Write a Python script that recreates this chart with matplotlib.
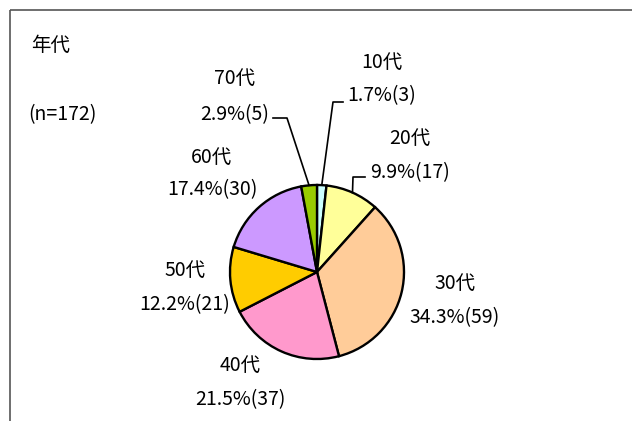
import matplotlib
matplotlib.use('Agg')
import matplotlib.pyplot as plt
import numpy as np

plt.rcParams['font.family'] = ['Noto Sans CJK JP', 'DejaVu Sans']

ages = ['10代', '20代', '30代', '40代', '50代', '60代', '70代']
counts = [3, 17, 59, 37, 21, 30, 5]
percents = [1.7, 9.9, 34.3, 21.5, 12.2, 17.4, 2.9]
colors = ['#CCFFFF', '#FFFF99', '#FFCC99', '#FF99CC', '#FFCC00', '#CC99FF', '#99CC00']
n_total = 172

W, H = 632, 421
fig = plt.figure(figsize=(W / 100, H / 100), dpi=100)
ax = fig.add_axes([0, 0, 1, 1])

# pie centre / radius in pixel units (y axis is flipped, so go counterclockwise)
cx, cy, r = 317, 272, 87
ax.pie(counts, colors=colors, startangle=-90, counterclock=True,
       center=(cx, cy), radius=r, frame=True,
       wedgeprops=dict(edgecolor='k', linewidth=1.7))
ax.set_xlim(0, W)
ax.set_ylim(H, 0)
ax.set_aspect('equal')
ax.axis('off')

# frame (only top and left visible)
ax.plot([10, 10], [H + 5, 10], color='#555555', lw=1.2, solid_capstyle='butt')
ax.plot([10, W + 5], [10, 10], color='#555555', lw=1.2, solid_capstyle='butt')

fs = 14
ax.text(31, 45, '年代', fontsize=fs, va='center', ha='left')
ax.text(28, 115, f'(n={n_total})', fontsize=fs, va='center', ha='left')

# label centres (x, name line y, value line y)
label_pos = {
    '10代': (382, 62, 96),
    '20代': (410, 138, 173),
    '30代': (455, 283, 318),
    '40代': (240, 365, 400),
    '50代': (185, 270, 305),
    '60代': (212, 157, 190),
    '70代': (235, 78, 115),
}
for name, c, p in zip(ages, counts, percents):
    x, y1, y2 = label_pos[name]
    ax.text(x, y1, name, fontsize=fs, ha='center', va='center')
    ax.text(x, y2, f'{p}%({c})', fontsize=fs, ha='center', va='center')

# leader lines for small slices
cum = np.cumsum([0] + counts) / sum(counts)
def edge_point(i):
    mid = 90 - 360 * (cum[i] + cum[i + 1]) / 2
    a = np.deg2rad(mid)
    return cx + r * np.cos(a), cy - r * np.sin(a)

leaders = {0: [(333, 102), (343, 102)], 1: [(353, 177), (365, 177)], 6: [(287, 118), (273, 118)]}
for i, pts in leaders.items():
    ex, ey = edge_point(i)
    xs = [ex] + [p[0] for p in pts]
    ys = [ey] + [p[1] for p in pts]
    ax.plot(xs, ys, color='k', lw=1.2)

fig.savefig('out.png', dpi=100)
